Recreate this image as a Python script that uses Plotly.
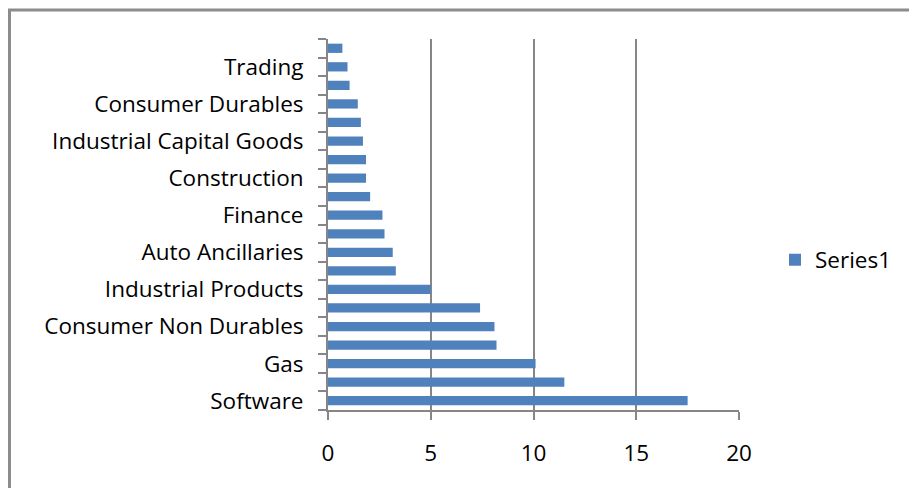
import plotly.graph_objects as go

# Categories listed bottom to top; unlabeled ones keep placeholder names
categories = ["Software", "Sector 2", "Gas", "Sector 4", "Consumer Non Durables",
              "Sector 6", "Industrial Products", "Sector 8", "Auto Ancillaries", "Sector 10",
              "Finance", "Sector 12", "Construction", "Sector 14", "Industrial Capital Goods",
              "Sector 16", "Consumer Durables", "Sector 18", "Trading", "Sector 20"]
values = [17.5, 11.5, 10.1, 8.2, 8.1, 7.4, 5.0, 3.3, 3.15, 2.75,
          2.65, 2.05, 1.85, 1.85, 1.7, 1.6, 1.45, 1.05, 0.95, 0.7]
tick_labels = ["Software", "", "Gas", "", "Consumer Non Durables",
               "", "Industrial Products", "", "Auto Ancillaries", "",
               "Finance", "", "Construction", "", "Industrial Capital Goods",
               "", "Consumer Durables", "", "Trading", ""]
x_ticks = [0, 5, 10, 15, 20]
series_name = "Series1"

FONT = "Open Sans"
FS = 22.5
GRAY = "#868686"

fig = go.Figure(go.Bar(
    x=values, y=categories, orientation="h", name=series_name,
    marker=dict(color="#4F81BD", line=dict(width=0)),
    showlegend=True,
))

L, R, T, B = 328, 170, 39, 78
W, H = 909, 488
pw, ph = W - L - R, H - T - B

fig.update_layout(
    width=W, height=H,
    margin=dict(l=L, r=R, t=T, b=B, pad=0, autoexpand=False),
    paper_bgcolor="white", plot_bgcolor="white",
    font=dict(family=FONT, size=FS, color="#000000"),
    bargap=0.5,
    xaxis=dict(range=[0, 20], tickvals=x_ticks, ticks="outside", ticklen=8,
               tickcolor=GRAY, tickwidth=2, showline=True, linecolor=GRAY, linewidth=2,
               showgrid=True, gridcolor=GRAY, gridwidth=2, zeroline=False,
               ticklabelstandoff=14, tickfont=dict(family=FONT, size=FS),
               automargin=False),
    yaxis=dict(type="category", categoryorder="array", categoryarray=categories,
               tickmode="array", tickvals=categories, ticktext=tick_labels,
               tickson="boundaries", ticks="outside", ticklen=8, tickcolor=GRAY, tickwidth=2,
               showline=True, linecolor=GRAY, linewidth=2, showgrid=False,
               ticklabelstandoff=18, tickfont=dict(family=FONT, size=FS),
               automargin=False),
    legend=dict(x=(775 - L) / pw, y=(H - B - 260) / ph, xanchor="left", yanchor="middle",
                font=dict(family=FONT, size=FS), bgcolor="rgba(0,0,0,0)",
                itemwidth=30),
    shapes=[dict(type="rect", xref="paper", yref="paper",
                 x0=(9.5 - L) / pw, x1=(W + 20 - L) / pw,
                 y0=(H - B - (H + 20)) / ph, y1=(H - B - 10) / ph,
                 line=dict(color="#8c8c8c", width=3), fillcolor="rgba(0,0,0,0)", layer="below")],
)

fig.write_html("out.html")
